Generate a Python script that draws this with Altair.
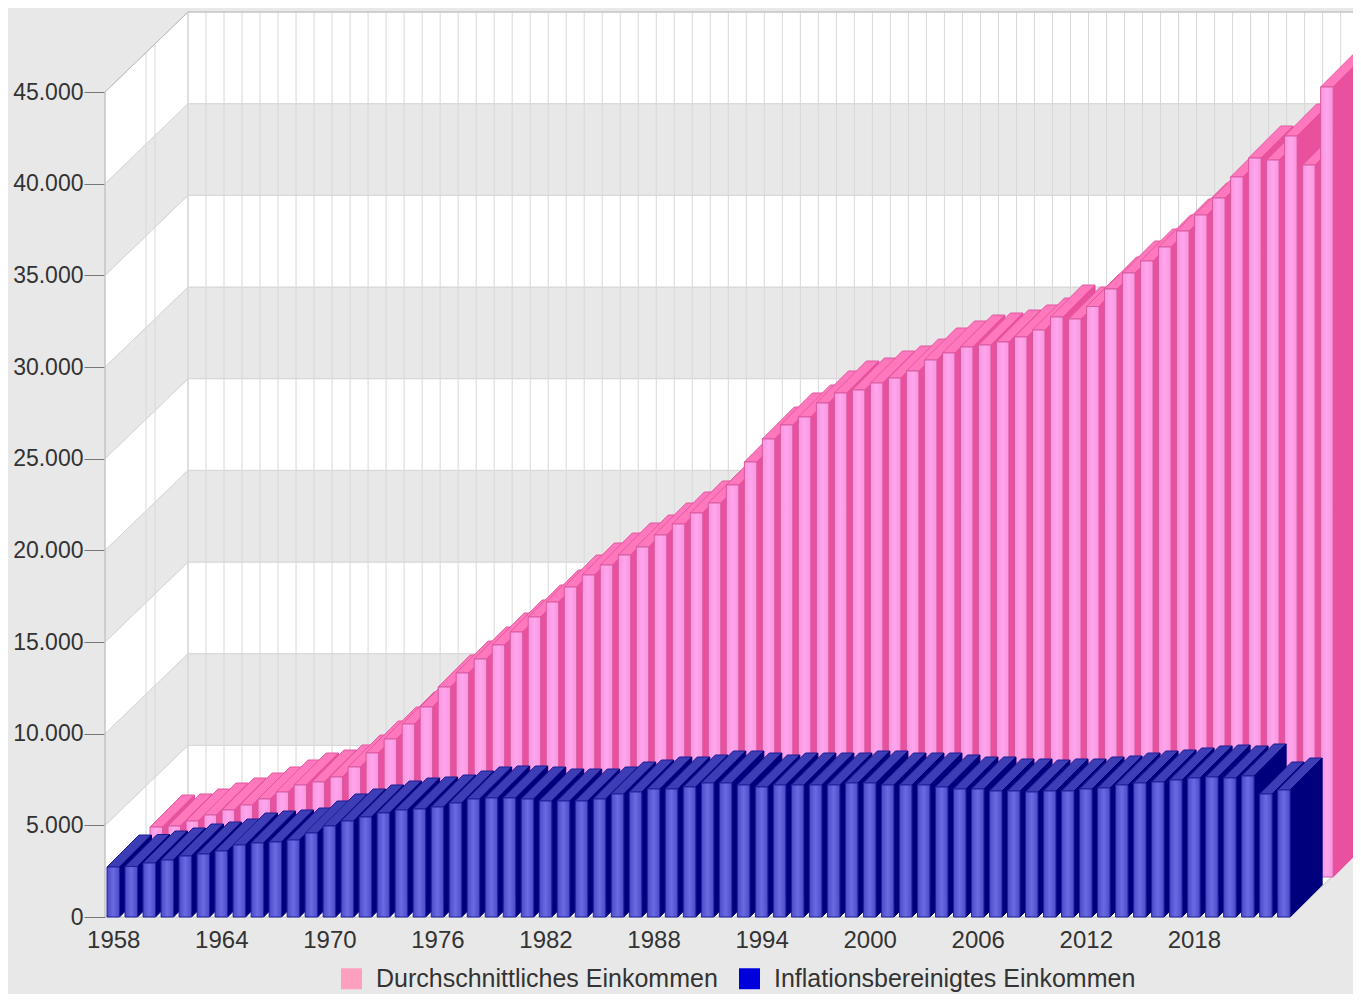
import altair as alt
import pandas as pd

years = list(range(1958, 2024))
series_names = ["Durchschnittliches Einkommen", "Inflationsbereinigtes Einkommen"]
avg_income = [2727, 2782, 3055, 3382, 3655, 3927, 4255, 4636, 5018, 5182, 5455, 6000, 6764, 7527, 8345, 9273,
              10364, 11127, 11891, 12655, 13364, 14182, 15000, 15818, 16473, 17018, 17564, 18000, 18655, 19255,
              19855, 20400, 21382, 22636, 23891, 24655, 25091, 25855, 26400, 26564, 26945, 27218, 27600, 28200,
              28582, 28909, 29018, 29182, 29455, 29836, 30545, 30436, 31118, 32073, 32945, 33600, 34364, 35236,
              36109, 37036, 38182, 39218, 39109, 40418, 38836, 43091]
real_income = [2727, 2755, 2945, 3109, 3327, 3436, 3600, 3927, 4036, 4091, 4200, 4582, 4964, 5236, 5455, 5673,
               5836, 5891, 6000, 6218, 6436, 6491, 6491, 6436, 6327, 6327, 6327, 6436, 6709, 6818, 6982, 6982,
               7091, 7309, 7309, 7200, 7091, 7200, 7200, 7200, 7200, 7309, 7309, 7200, 7200, 7200, 7091, 6982,
               6982, 6873, 6873, 6818, 6873, 6873, 6982, 7036, 7200, 7309, 7364, 7473, 7582, 7636, 7582, 7691,
               6709, 6927]
y_ticks = [0, 5000, 10000, 15000, 20000, 25000, 30000, 35000, 40000, 45000]
x_ticks = list(range(1958, 2019, 6))

# projection of the oblique 3D look
PX_X = 18.01          # px per year
PX_Y = 825 / 45000    # px per income unit
def ux(px): return px / PX_X
def uy(px): return px / PX_Y

BAR_W = ux(12.5)
BAR_L = -ux(6.25)
DEPTH_X, DEPTH_Y = ux(32), uy(32)
WALL_X, WALL_Y = ux(83), uy(80)
PINK_X, PINK_Y = ux(43), uy(40)
S = DEPTH_Y / DEPTH_X
PLOT_W = 1248
X_LEFT = 1958 - ux(8.25)
X_END = X_LEFT + ux(PLOT_W)
FLOOR_R = 2023 + BAR_L + BAR_W
WSLOPE = WALL_Y / WALL_X
Y_TOP = 45000 + WALL_Y

WALL_GREY = "#e8e8e8"
BLUE = dict(top="#3d3db6", side="#00007c", edge="#1c1c94")
PINK = dict(top="#ff78bd", side="#e9509d", edge="#e2589f")

wall_rows = []
def face(rows, fid, fill, stroke, pts):
    for x, lo, hi in pts:
        rows.append(dict(id=fid, fill=fill, stroke=stroke, x=x, y=lo, y2=hi))

# floor
fx0, fx1 = X_LEFT, FLOOR_R
face(wall_rows, "floor", "#ffffff", "#bdbdbd", [
    (fx0, 0, 0), (fx0 + WALL_X, 0, WALL_Y), (fx1, 0, WALL_Y), (fx1 + WALL_X, WALL_Y, WALL_Y)])
# wall bands
for k, lo in enumerate(y_ticks[:-1]):
    hi = lo + 5000
    c = "#ffffff" if k % 2 == 0 else WALL_GREY
    face(wall_rows, f"left{k}", c, "#d6d6d6", [(X_LEFT, lo, hi), (X_LEFT + WALL_X, lo + WALL_Y, hi + WALL_Y)])
    face(wall_rows, f"back{k}", c, "#d6d6d6", [(X_LEFT + WALL_X, lo + WALL_Y, hi + WALL_Y),
                                              (FLOOR_R + WALL_X, lo + WALL_Y, hi + WALL_Y)])

grid_rows = []
gx = X_LEFT + WALL_X
while gx < X_END:
    grid_rows.append(dict(x=gx, y=WALL_Y, y2=45000 + WALL_Y))
    gx += 1
for px in (41, 50):
    gx = X_LEFT + ux(px)
    grid_rows.append(dict(x=gx, y=(gx - X_LEFT) * WSLOPE, y2=45000 + (gx - X_LEFT) * WSLOPE))

edge_rows = [dict(id="edge", x=X_LEFT, y=0), dict(id="edge", x=X_LEFT, y=45000),
             dict(id="edge", x=X_LEFT + WALL_X, y=Y_TOP), dict(id="edge", x=X_END, y=Y_TOP)]

def bar_faces(values, ox, oy, col, tag):
    faces, fronts = [], []
    for yr, v in zip(years, values):
        x0 = yr + BAR_L + ox
        x1 = x0 + BAR_W
        top = v + oy
        d, w = DEPTH_X, BAR_W
        face(faces, f"{tag}t{yr}", col["top"], col["edge"], [
            (x0, top, top), (x1, top, top + w * S),
            (x0 + d, top + (d - w) * S, top + d * S), (x1 + d, top + d * S, top + d * S)])
        face(faces, f"{tag}s{yr}", col["side"], col["side"], [
            (x1, oy, top), (x1 + d, oy + d * S, top + d * S)])
        fronts.append(dict(x=x0, x2=x1, y=oy, y2=top))
    return pd.DataFrame(faces), pd.DataFrame(fronts)

pink_faces, pink_fronts = bar_faces(avg_income, PINK_X, PINK_Y, PINK, "p")
blue_faces, blue_fronts = bar_faces(real_income, 0, 0, BLUE, "b")

x_enc = alt.X("x:Q", title=None,
              scale=alt.Scale(domain=[X_LEFT, X_END], nice=False, zero=False),
              axis=alt.Axis(values=x_ticks, format="d", domain=False, ticks=False, grid=False,
                            labelFontSize=24, labelColor="#333333", labelPadding=11,
                            labelFont="Liberation Sans", labelOverlap=False, labelFlush=False))
y_enc = alt.Y("y:Q", title=None,
              scale=alt.Scale(domain=[0, Y_TOP], nice=False, zero=False),
              axis=alt.Axis(values=y_ticks, domain=False, grid=False, tickSize=21, tickColor="#777777",
                            labelFontSize=23, labelColor="#333333", labelPadding=1,
                            labelFont="Liberation Sans", labelOverlap=False,
                            labelExpr='replace(format(datum.value, ","), ",", ".")'))

def area_layer(df):
    return alt.Chart(df).mark_area(strokeWidth=1, opacity=1).encode(
        x=x_enc, y=y_enc, y2="y2:Q",
        detail="id:N",
        fill=alt.Fill("fill:N", scale=None),
        stroke=alt.Stroke("stroke:N", scale=None))

def front_layer(df, stops, stroke):
    grad = alt.LinearGradient(gradient="linear", x1=0, x2=1, y1=0, y2=0,
                              stops=[alt.GradientStop(offset=o, color=c) for o, c in stops])
    return alt.Chart(df).mark_rect(fill=grad, stroke=stroke, strokeWidth=1).encode(
        x=x_enc, x2="x2:Q", y=y_enc, y2="y2:Q")

legend_df = pd.DataFrame(dict(name=series_names, x=[1960, 1960], y=[1000, 1000]))
legend_layer = alt.Chart(legend_df).mark_square(size=100, opacity=1).encode(
    x=x_enc, y=y_enc,
    color=alt.Color("name:N", title=None,
                    scale=alt.Scale(domain=series_names, range=["#ff9fc0", "#0000dc"]),
                    legend=alt.Legend(orient="none", legendX=234, legendY=954, columns=2, symbolType="square",
                                      symbolSize=440, labelFontSize=25, labelFont="Liberation Sans",
                                      labelColor="#333333", columnPadding=19, labelOffset=12, labelLimit=600,
                                      symbolStrokeWidth=0, rowPadding=0)))

chart = alt.layer(
    legend_layer,
    area_layer(pd.DataFrame(wall_rows)),
    alt.Chart(pd.DataFrame(grid_rows)).mark_rule(color="#d8d8d8", strokeWidth=1).encode(x=x_enc, y=y_enc, y2="y2:Q"),
    alt.Chart(pd.DataFrame(edge_rows)).mark_line(color="#bbbbbb", strokeWidth=1).encode(
        x=x_enc, y=y_enc, detail="id:N", order="order:Q"
    ).transform_window(order="row_number()"),
    area_layer(pink_faces),
    front_layer(pink_fronts, [(0, "#f995dc"), (0.5, "#ffa6ee"), (1, "#f995dc")], "#d65aa0"),
    area_layer(blue_faces),
    front_layer(blue_fronts, [(0, "#4a4ac8"), (0.5, "#6a6ae2"), (1, "#4a4ac8")], "#20209c"),
).properties(
    width=PLOT_W, height=905, background=WALL_GREY,
    padding={"left": 97, "top": 4, "right": 0, "bottom": 77},
    autosize=alt.AutoSizeParams(type="none"),
).configure_view(stroke=None)

chart.save("out.html", embed_options={"renderer": "svg", "actions": False})
